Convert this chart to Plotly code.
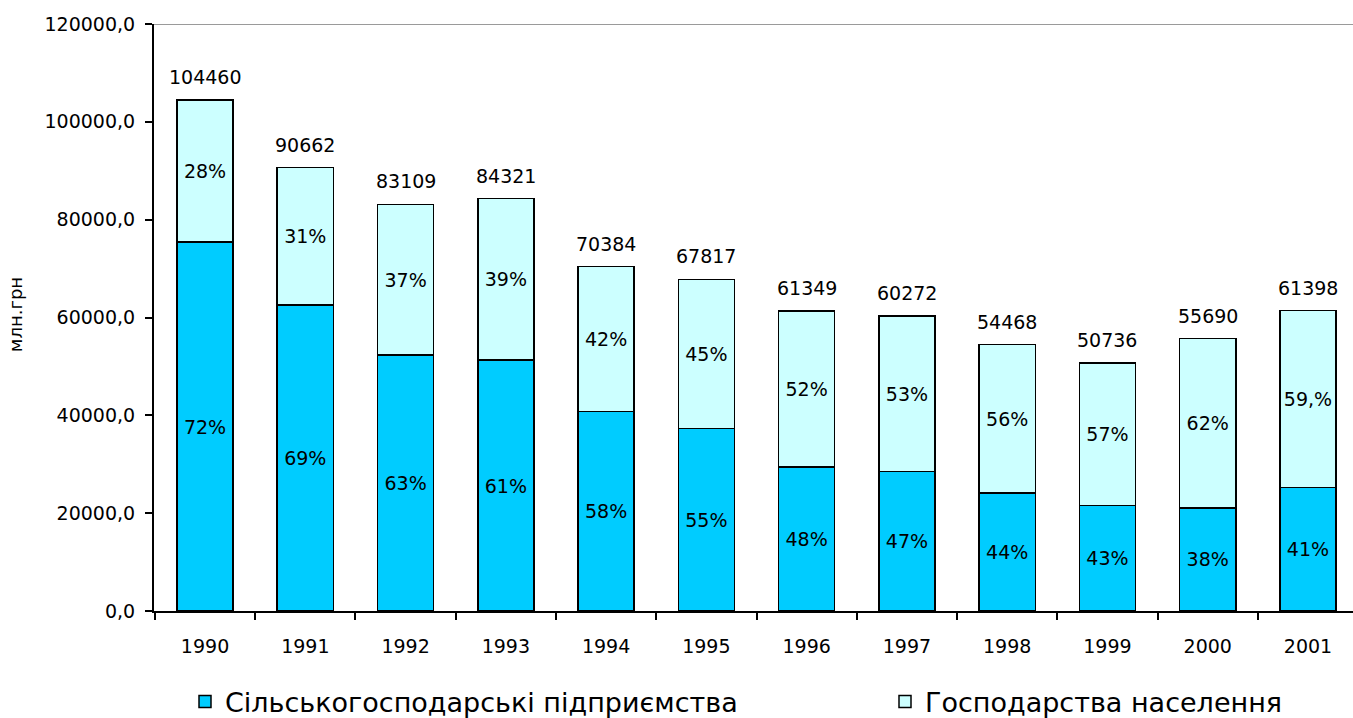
import plotly.graph_objects as go

# ---- data ----
years = ["1990", "1991", "1992", "1993", "1994", "1995",
         "1996", "1997", "1998", "1999", "2000", "2001"]
totals = [104460, 90662, 83109, 84321, 70384, 67817,
          61349, 60272, 54468, 50736, 55690, 61398]
enterprises = [75400, 62600, 52300, 51300, 40800, 37300,
               29400, 28500, 24100, 21600, 21100, 25200]
households = [29060, 28062, 30809, 33021, 29584, 30517,
              31949, 31772, 30368, 29136, 34590, 36198]
enterprise_pct = ["72%", "69%", "63%", "61%", "58%", "55%",
                  "48%", "47%", "44%", "43%", "38%", "41%"]
household_pct = ["28%", "31%", "37%", "39%", "42%", "45%",
                 "52%", "53%", "56%", "57%", "62%", "59,%"]
total_labels = ["104460", "90662", "83109", "84321", "70384", "67817",
                "61349", "60272", "54468", "50736", "55690", "61398"]
y_ticks = [0, 20000, 40000, 60000, 80000, 100000, 120000]
y_tick_labels = ["0,0", "20000,0", "40000,0", "60000,0",
                 "80000,0", "100000,0", "120000,0"]
series_names = ["Сільськогосподарські підприємства", "Господарства населення"]
y_title = "млн.грн"

FONT = "DejaVu Sans"
NUM = dict(family=FONT, size=19, color="black")
LEG_FONT = dict(family=FONT, size=27, color="black")

fig = go.Figure()
fig.add_trace(go.Bar(
    x=years, y=enterprises, name=series_names[0], legend="legend",
    marker=dict(color="#00CCFF", line=dict(color="black", width=1.5)),
    text=enterprise_pct, textposition="inside", insidetextanchor="middle",
    textangle=0, constraintext="none", textfont=NUM,
    width=0.56, hoverinfo="skip",
))
fig.add_trace(go.Bar(
    x=years, y=households, name=series_names[1], legend="legend2",
    marker=dict(color="#CCFFFF", line=dict(color="black", width=1.5)),
    text=household_pct, textposition="inside", insidetextanchor="middle",
    textangle=0, constraintext="none", textfont=NUM,
    width=0.56, hoverinfo="skip",
))

for i, (tot, lab) in enumerate(zip(totals, total_labels)):
    fig.add_annotation(x=i, y=tot, text=lab, showarrow=False,
                       yanchor="bottom", yshift=10, font=NUM)

fig.add_annotation(xref="paper", yref="paper", x=(15 - 154) / 1199, y=0.504,
                   text=y_title, textangle=-90, showarrow=False,
                   xanchor="center", yanchor="middle",
                   font=dict(family=FONT, size=18, color="black"))

fig.add_shape(type="line", xref="paper", yref="y", x0=0, x1=1,
              y0=y_ticks[-1], y1=y_ticks[-1],
              line=dict(color="#9a9a9a", width=2), layer="below")

leg_common = dict(orientation="h", xref="container", yref="container",
                  xanchor="left", yanchor="middle", y=1 - 702 / 718,
                  font=LEG_FONT, itemclick=False, itemdoubleclick=False,
                  bgcolor="rgba(0,0,0,0)")

fig.update_layout(
    width=1353, height=718,
    margin=dict(l=154, r=0, t=24, b=107, pad=0, autoexpand=False),
    barmode="stack",
    plot_bgcolor="white", paper_bgcolor="white",
    font=dict(family=FONT, color="black"),
    showlegend=True,
    legend=dict(x=185 / 1353, **leg_common),
    legend2=dict(x=885 / 1353, **leg_common),
    xaxis=dict(type="category", range=[-0.509, 11.449],
               showline=True, linecolor="black", linewidth=2,
               ticks="outside", tickson="boundaries", ticklen=7,
               tickwidth=2, tickcolor="black", showgrid=False,
               tickfont=NUM, ticklabelstandoff=17, zeroline=False,
               automargin=False),
    yaxis=dict(range=[0, 120000], tickvals=y_ticks, ticktext=y_tick_labels,
               showline=True, linecolor="black", linewidth=2,
               ticks="outside", ticklen=7, tickwidth=2, tickcolor="black",
               showgrid=False, zeroline=False, tickfont=NUM,
               ticklabelstandoff=6, automargin=False),
)

fig.write_html("out.html", config={"displayModeBar": False},
               post_script="document.body.style.margin='0';document.body.style.overflow='hidden';")
